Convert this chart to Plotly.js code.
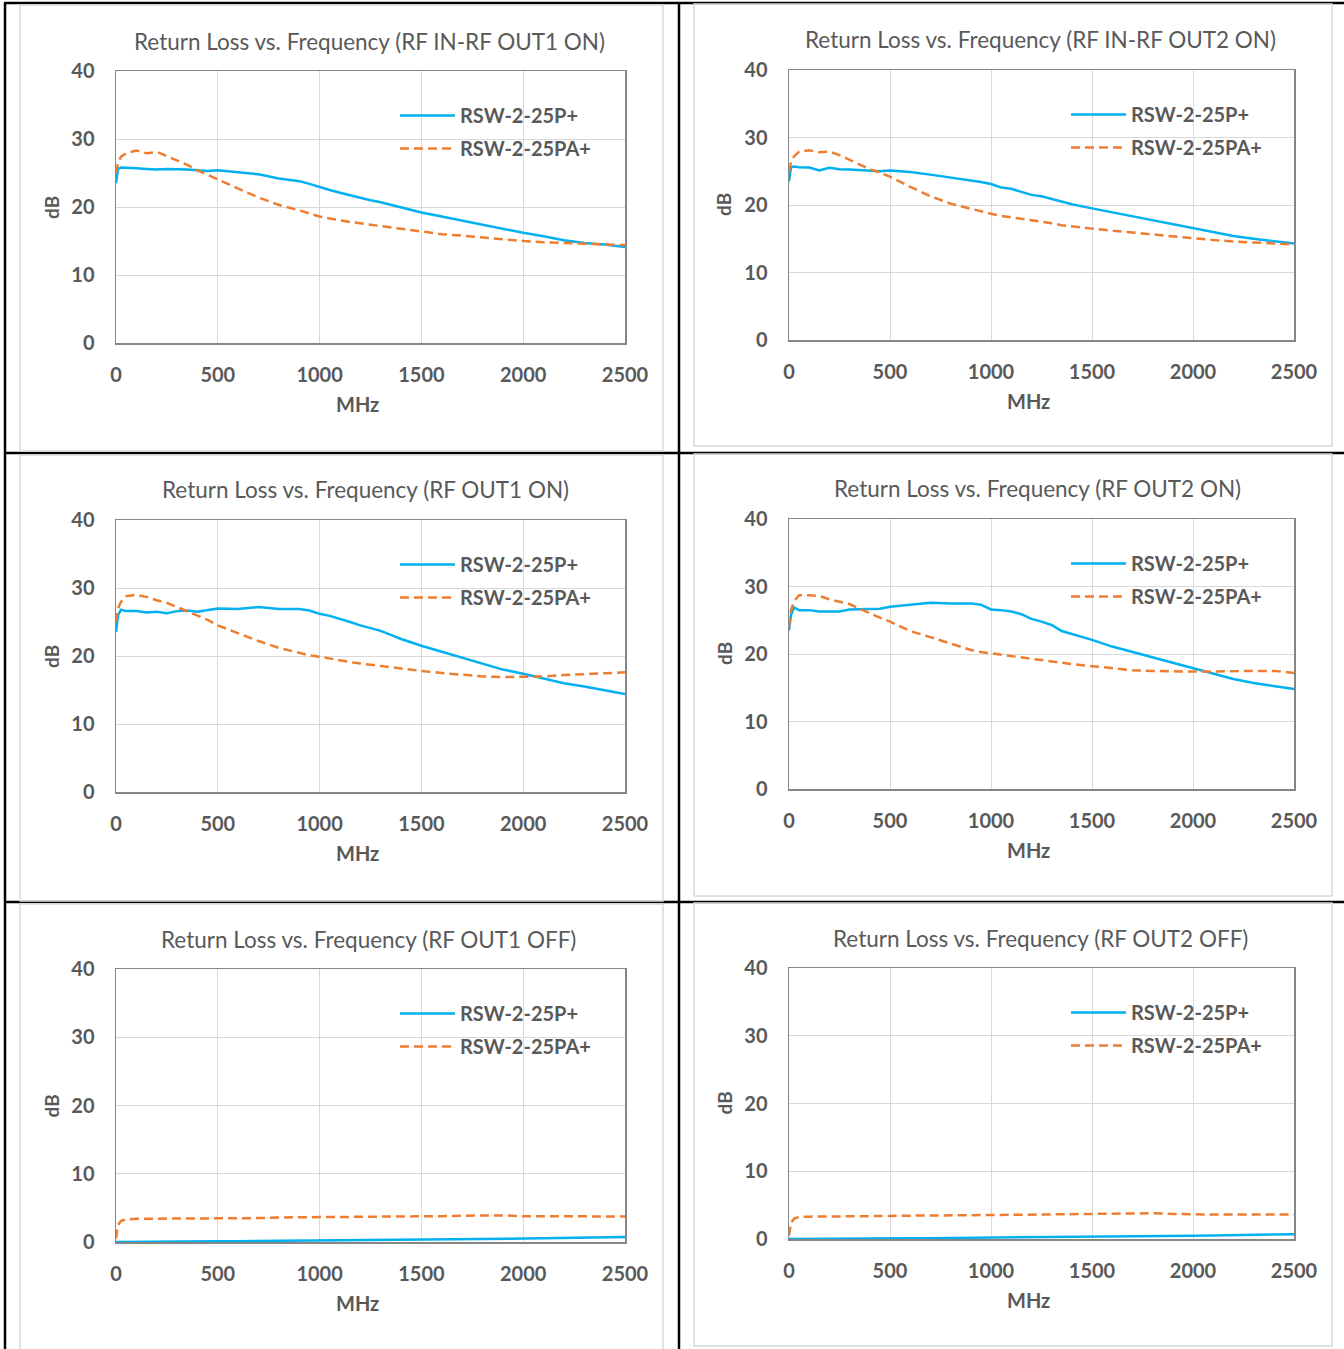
<!DOCTYPE html>
<html><head><meta charset="utf-8">
<script src="https://cdn.plot.ly/plotly-3.0.1.min.js"></script>
<style>html,body{margin:0;padding:0;background:#fff;}#chart{width:1344px;height:1349px;}</style>
</head><body><div id="chart"></div>
<script>
// ---------------- data ----------------
const freq = [0, 10, 25, 50, 100, 150, 200, 250, 300, 350, 400, 450, 500, 600, 700, 800, 900, 950, 1000, 1050, 1100, 1150, 1200, 1250, 1300, 1350, 1400, 1500, 1600, 1700, 1800, 1900, 2000, 2100, 2200, 2300, 2400, 2500];
const seriesNames = ['RSW-2-25P+', 'RSW-2-25PA+'];
const chartTitles = [
  'Return Loss vs. Frequency (RF IN-RF OUT1 ON)',
  'Return Loss vs. Frequency (RF IN-RF OUT2 ON)',
  'Return Loss vs. Frequency (RF OUT1 ON)',
  'Return Loss vs. Frequency (RF OUT2 ON)',
  'Return Loss vs. Frequency (RF OUT1 OFF)',
  'Return Loss vs. Frequency (RF OUT2 OFF)'
];
const xTickVals = [0, 500, 1000, 1500, 2000, 2500];
const yTickVals = [0, 10, 20, 30, 40];
const xTitle = 'MHz';
const yTitle = 'dB';

// RF IN-RF OUT1 ON
const inOut1_P  = [23.5, 25.6, 25.8, 25.8, 25.7, 25.6, 25.5, 25.6, 25.6, 25.5, 25.4, 25.3, 25.4, 25.1, 24.8, 24.2, 23.8, 23.4, 22.9, 22.5, 22.1, 21.7, 21.4, 21.0, 20.7, 20.3, 20.0, 19.2, 18.6, 18.0, 17.3, 16.8, 16.2, 15.7, 15.1, 14.7, 14.5, 14.1];
const inOut1_PA = [25.0, 26.5, 27.4, 27.9, 28.3, 27.9, 28.1, 27.5, 26.9, 26.2, 25.4, 24.7, 24.0, 22.7, 21.4, 20.3, 19.5, 19.0, 18.6, 18.3, 18.0, 17.8, 17.6, 17.4, 17.2, 16.9, 16.7, 16.3, 16.0, 15.8, 15.5, 15.3, 15.0, 14.8, 14.7, 14.6, 14.5, 14.4];
// RF IN-RF OUT2 ON
const inOut2_P  = [23.5, 25.6, 25.7, 25.6, 25.55, 25.1, 25.5, 25.3, 25.25, 25.2, 25.1, 25.0, 25.1, 24.9, 24.5, 24.1, 23.7, 23.4, 23.1, 22.6, 22.4, 22.0, 21.5, 21.3, 20.9, 20.4, 20.1, 19.5, 18.9, 18.4, 17.8, 17.2, 16.6, 16.0, 15.4, 15.0, 14.6, 14.3];
const inOut2_PA = [25.0, 26.3, 27.2, 27.9, 28.1, 27.8, 27.9, 27.4, 26.7, 26.0, 25.3, 24.8, 24.2, 22.7, 21.3, 20.2, 19.4, 19.0, 18.7, 18.4, 18.2, 18.0, 17.7, 17.5, 17.3, 17.0, 16.8, 16.5, 16.2, 15.9, 15.6, 15.3, 15.1, 14.8, 14.6, 14.4, 14.3, 14.15];
// RF OUT1 ON
const out1On_P  = [23.5, 26.0, 26.8, 26.6, 26.6, 26.4, 26.5, 26.3, 26.6, 26.7, 26.5, 26.7, 27.0, 26.9, 27.2, 26.9, 26.9, 26.7, 26.2, 25.9, 25.5, 25.0, 24.5, 24.1, 23.7, 23.1, 22.5, 21.5, 20.6, 19.8, 18.9, 18.0, 17.4, 16.7, 16.0, 15.5, 15.0, 14.4];
const out1On_PA = [25.0, 27.0, 28.0, 28.8, 29.0, 28.7, 28.2, 27.8, 27.2, 26.6, 26.0, 25.3, 24.5, 23.3, 22.2, 21.2, 20.4, 20.1, 19.9, 19.6, 19.4, 19.1, 18.9, 18.7, 18.5, 18.4, 18.2, 17.8, 17.5, 17.2, 17.0, 16.9, 16.9, 17.0, 17.2, 17.3, 17.5, 17.6];
// RF OUT2 ON
const out2On_P  = [23.5, 25.8, 26.9, 26.5, 26.5, 26.3, 26.3, 26.3, 26.6, 26.6, 26.7, 26.7, 27.0, 27.3, 27.6, 27.5, 27.5, 27.3, 26.6, 26.5, 26.3, 25.9, 25.2, 24.8, 24.3, 23.4, 23.0, 22.1, 21.1, 20.3, 19.5, 18.8, 17.9, 17.1, 16.3, 15.7, 15.3, 14.8];
const out2On_PA = [24.0, 26.5, 27.8, 28.7, 28.7, 28.6, 28.1, 27.7, 27.4, 26.7, 26.0, 25.4, 24.8, 23.4, 22.5, 21.5, 20.6, 20.3, 20.1, 19.9, 19.7, 19.4, 19.2, 19.0, 18.9, 18.7, 18.5, 18.2, 17.9, 17.6, 17.5, 17.4, 17.4, 17.4, 17.5, 17.5, 17.5, 17.2];
// RF OUT1 OFF
const out1Off_P  = [0.0, 0.0, 0.0, 0.0, 0.0, 0.02, 0.03, 0.05, 0.05, 0.06, 0.08, 0.09, 0.1, 0.12, 0.14, 0.16, 0.18, 0.19, 0.2, 0.22, 0.24, 0.25, 0.27, 0.28, 0.3, 0.32, 0.33, 0.36, 0.39, 0.42, 0.45, 0.48, 0.51, 0.55, 0.59, 0.63, 0.68, 0.74];
const out1Off_PA = [0.5, 2.5, 3.1, 3.3, 3.4, 3.4, 3.4, 3.4, 3.4, 3.4, 3.45, 3.45, 3.45, 3.5, 3.5, 3.6, 3.6, 3.62, 3.65, 3.65, 3.65, 3.68, 3.7, 3.7, 3.72, 3.72, 3.75, 3.75, 3.78, 3.85, 3.9, 3.9, 3.78, 3.75, 3.75, 3.75, 3.75, 3.75];
// RF OUT2 OFF
const out2Off_P  = [0.0, 0.0, 0.0, 0.0, 0.0, 0.01, 0.02, 0.03, 0.04, 0.05, 0.06, 0.07, 0.08, 0.1, 0.12, 0.14, 0.16, 0.17, 0.18, 0.2, 0.22, 0.23, 0.25, 0.26, 0.28, 0.3, 0.31, 0.34, 0.37, 0.4, 0.43, 0.46, 0.49, 0.53, 0.57, 0.61, 0.65, 0.7];
const out2Off_PA = [0.5, 2.4, 3.0, 3.25, 3.3, 3.3, 3.3, 3.3, 3.3, 3.3, 3.35, 3.4, 3.4, 3.45, 3.45, 3.5, 3.5, 3.52, 3.55, 3.55, 3.57, 3.58, 3.6, 3.6, 3.62, 3.65, 3.7, 3.72, 3.75, 3.78, 3.8, 3.7, 3.6, 3.6, 3.6, 3.6, 3.6, 3.6];

const panelSeries = [
  [inOut1_P, inOut1_PA],
  [inOut2_P, inOut2_PA],
  [out1On_P, out1On_PA],
  [out2On_P, out2On_PA],
  [out1Off_P, out1Off_PA],
  [out2Off_P, out2Off_PA]
];

// ---------------- layout ----------------
const W = 1344, H = 1349;
const FONT = 'Lato, "Open Sans", sans-serif';
const GREY = '#595959';
const px = v => v / W;
const py = v => 1 - v / H;

// plot-area pixel boxes
const boxes = [
  {l:116, r:625, t:71,  b:343},
  {l:789, r:1294, t:70, b:340},
  {l:116, r:625, t:520, b:792},
  {l:789, r:1294, t:519, b:789},
  {l:116, r:625, t:969, b:1242},
  {l:789, r:1294, t:968, b:1239}
];
const titleCenters = [369, 1040, 366, 1037, 368, 1040];

const data = [];
const layout = {
  width: W, height: H,
  margin: {l:0, r:0, t:0, b:0, pad:0},
  paper_bgcolor: '#ffffff', plot_bgcolor: '#ffffff',
  showlegend: true,
  annotations: [], shapes: []
};

boxes.forEach((b, i) => {
  const s = i === 0 ? '' : String(i + 1);
  layout['xaxis' + s] = {
    domain: [px(b.l), px(b.r)], anchor: 'y' + s,
    range: [0, 2500], tickvals: xTickVals, ticktext: xTickVals.map(String),
    showgrid: true, gridcolor: '#d9d9d9', gridwidth: 1,
    showline: true, mirror: true, linecolor: '#868686', linewidth: 1.5,
    zeroline: false, ticks: '', ticklabelstandoff: 13,
    tickfont: {family: FONT, size: 20, color: GREY, weight: 'bold'},
    fixedrange: true
  };
  layout['yaxis' + s] = {
    domain: [py(b.b), py(b.t)], anchor: 'x' + s,
    range: [0, 40], tickvals: yTickVals, ticktext: yTickVals.map(String),
    showgrid: true, gridcolor: '#d9d9d9', gridwidth: 1,
    showline: true, mirror: true, linecolor: '#868686', linewidth: 1.5,
    zeroline: false, ticks: '', ticklabelstandoff: 16,
    tickfont: {family: FONT, size: 20, color: GREY, weight: 'bold'},
    fixedrange: true
  };
  const legKey = 'legend' + s;
  const legLeft = i % 2 === 0 ? 395 : 1066;
  layout[legKey] = {
    x: px(legLeft), y: py(b.t + 25), xanchor: 'left', yanchor: 'top',
    bgcolor: 'rgba(0,0,0,0)', borderwidth: 0,
    font: {family: FONT, size: 20, color: GREY, weight: 'bold'},
    itemwidth: 55, tracegroupgap: 4
  };
  const ys = panelSeries[i];
  data.push({
    x: freq, y: ys[0], type: 'scatter', mode: 'lines', name: seriesNames[0],
    line: {color: '#00B0F0', width: 2.5},
    xaxis: 'x' + s, yaxis: 'y' + s, legend: legKey, legendgroup: 'a' + i,
    hoverinfo: 'x+y'
  });
  data.push({
    x: freq, y: ys[1], type: 'scatter', mode: 'lines', name: seriesNames[1],
    line: {color: '#ED7D31', width: 2.5, dash: '9px,5px'},
    xaxis: 'x' + s, yaxis: 'y' + s, legend: legKey, legendgroup: 'b' + i,
    hoverinfo: 'x+y'
  });
  // chart title
  layout.annotations.push({
    text: chartTitles[i], xref: 'paper', yref: 'paper',
    x: px(titleCenters[i]), y: py(b.t - 30), xanchor: 'center', yanchor: 'middle',
    showarrow: false, font: {family: FONT, size: 22.5, color: GREY}
  });
  // y axis title
  layout.annotations.push({
    text: yTitle, xref: 'paper', yref: 'paper',
    x: px(b.l - 65), y: py((b.t + b.b) / 2), xanchor: 'center', yanchor: 'middle',
    textangle: -90, showarrow: false, font: {family: FONT, size: 19, color: GREY, weight: 'bold'}
  });
  // x axis title
  layout.annotations.push({
    text: xTitle, xref: 'paper', yref: 'paper',
    x: px((b.l + b.r) / 2 - 13), y: py(b.b + 61), xanchor: 'center', yanchor: 'middle',
    showarrow: false, font: {family: FONT, size: 20, color: GREY, weight: 'bold'}
  });
});

// page frame: black table lines and light grey chart-area borders
const blackLines = [
  [4, 3, 1344, 3], [5, 3, 5, 1349], [679, 3, 679, 1349],
  [4, 453, 1344, 453], [4, 902, 1344, 902]
];
blackLines.forEach(L => layout.shapes.push({
  type: 'line', xref: 'paper', yref: 'paper',
  x0: px(L[0]), y0: py(L[1]), x1: px(L[2]), y1: py(L[3]),
  line: {color: '#000000', width: 2.5}
}));
const chartFrames = [
  [20, 5, 663, 451], [694, 4, 1332, 446],
  [20, 455, 663, 901], [694, 454, 1332, 896],
  [20, 904, 663, 1352], [694, 903, 1332, 1346]
];
chartFrames.forEach(R => layout.shapes.push({
  type: 'rect', xref: 'paper', yref: 'paper',
  x0: px(R[0]), y0: py(R[1]), x1: px(R[2]), y1: py(R[3]),
  line: {color: '#d9d9d9', width: 1.5}, fillcolor: 'rgba(0,0,0,0)'
}));

Plotly.newPlot('chart', data, layout, {staticPlot: true, displayModeBar: false});
</script></body></html>
